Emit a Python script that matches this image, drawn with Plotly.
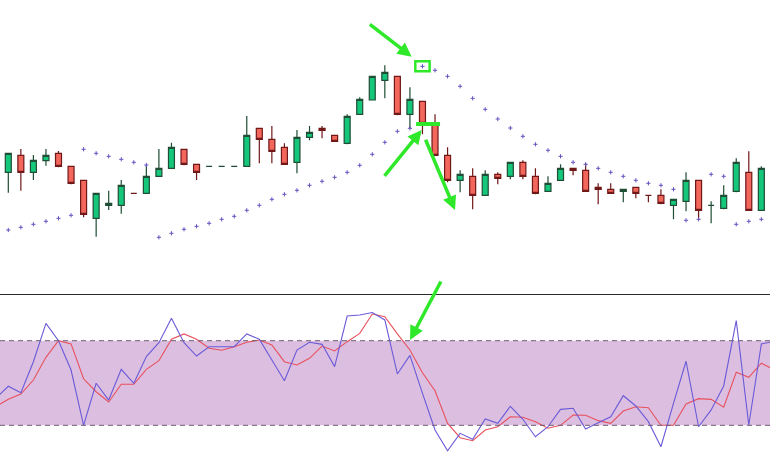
import plotly.graph_objects as go

# ---------------- data ----------------
candle_x = list(range(0, 61))
opens = [77.7, 94.7, 77.7, 89.3, 96.7, 83.7, 69.7, 31.7, 44.7, 44.7,
         56.7, 56.7, 73.7, 81.7, 100.7, 85.7, 83.7, 83.7, 83.7, 83.7,
         121.7, 110.7, 102.7, 87.7, 112.7, 121.7, 114.7, 106.7, 135.7, 150.0,
         169.7, 173.7, 135.7, 148.7, 126.7, 94.7, 69.7, 73.7, 54.7, 75.7,
         73.7, 87.7, 73.7, 58.7, 69.7, 81.7, 79.7, 62.7, 60.7, 58.7,
         62.7, 54.7, 54.7, 44.7, 48.7, 69.7, 44.7, 41.7, 58.7, 77.7, 39.7]
highs = [96.7, 101.0, 95.0, 101.0, 99.0, 83.7, 69.7, 56.7, 59.3, 70.0,
         56.7, 85.0, 101.0, 107.3, 100.7, 85.7, 83.7, 83.7, 83.7, 134.0,
         121.7, 124.0, 106.7, 120.0, 124.0, 124.0, 114.7, 135.7, 152.7, 173.7,
         184.7, 173.7, 162.7, 148.7, 135.7, 102.7, 79.7, 81.7, 79.7, 77.7,
         87.7, 89.7, 81.7, 73.7, 85.7, 81.7, 86.7, 66.7, 66.7, 60.7,
         62.7, 54.7, 60.7, 50.7, 77.7, 69.7, 48.7, 64.7, 91.7, 98.7, 83.7]
lows = [57.3, 59.3, 70.0, 84.3, 82.7, 65.7, 32.7, 13.3, 40.0, 36.3,
        56.7, 56.7, 73.7, 81.7, 84.7, 70.0, 83.7, 83.7, 83.7, 83.7,
        86.7, 86.7, 85.7, 76.7, 109.7, 111.7, 108.7, 105.7, 135.7, 150.0,
        151.7, 134.7, 121.7, 115.7, 94.7, 67.7, 57.7, 40.7, 54.7, 65.7,
        70.7, 70.7, 55.7, 58.7, 69.7, 74.7, 58.7, 45.7, 56.7, 47.7,
        51.7, 47.7, 45.7, 30.7, 38.7, 30.7, 26.7, 40.7, 57.7, 39.7, 39.7]
closes = [96.7, 77.7, 89.7, 94.7, 83.7, 66.7, 35.7, 56.7, 46.7, 64.7,
          56.7, 73.7, 81.7, 102.7, 85.7, 77.7, 83.7, 83.7, 83.7, 114.7,
          110.7, 98.7, 85.7, 112.7, 117.7, 119.7, 108.7, 133.7, 150.7, 173.7,
          177.7, 135.7, 150.7, 126.7, 94.7, 69.7, 75.7, 54.7, 75.7, 71.7,
          87.7, 73.7, 56.7, 66.7, 81.7, 79.7, 58.7, 60.7, 56.7, 60.7,
          56.7, 54.7, 46.7, 50.7, 69.7, 39.7, 44.7, 54.7, 87.7, 39.7, 81.7]

# Parabolic SAR dots
sar = [20.0, 22.7, 25.7, 28.7, 31.7, 34.7,
       100.7, 96.7, 93.7, 90.7, 87.7, 85.0,
       12.7, 16.7, 20.7, 23.7, 26.7, 30.7, 33.7, 39.7, 44.7, 50.7, 55.7,
       59.7, 64.7, 68.7, 72.7, 77.7, 84.7, 95.7, 107.7, 118.7, 121.7,
       183.7, 179.7, 173.7, 163.7, 151.7, 140.7, 131.0, 122.0, 113.7, 105.7,
       99.7, 93.7, 87.7, 85.7, 81.7, 77.7, 73.7, 69.7, 66.7, 64.7, 60.7,
       29.7, 30.7,
       75.7, 73.7,
       25.7, 28.7, 30.7]

# Stochastic oscillator
stoch_x = list(range(-1, 62))
stoch_k = [39.1, 47.7, 43.1, 65.1, 92.3, 80.0, 59.2, 20.0, 49.8, 37.9,
           59.7, 49.8, 68.7, 78.6, 95.9, 78.6, 69.1, 75.7, 75.7, 75.7,
           84.8, 81.0, 66.3, 51.6, 73.4, 78.9, 77.4, 61.6, 97.5, 98.2,
           100.0, 94.7, 56.4, 69.6, 42.7, 16.7, 2.0, 14.3, 10.1, 24.5,
           21.4, 33.5, 24.3, 11.9, 19.0, 31.3, 32.1, 17.4, 21.8, 26.1,
           41.0, 33.7, 22.6, 4.8, 35.6, 65.4, 19.0, 30.9, 47.9, 94.2,
           20.2, 77.7, 79.4]
stoch_d = [33.2, 38.4, 42.2, 52.1, 68.2, 80.0, 77.7, 53.0, 43.8, 36.5,
           49.1, 49.1, 59.7, 65.8, 81.0, 84.8, 81.0, 74.6, 73.2, 75.7,
           78.9, 80.5, 77.0, 65.1, 62.8, 67.5, 76.2, 72.7, 79.3, 85.2,
           98.9, 97.0, 84.8, 73.4, 57.3, 44.5, 21.4, 11.2, 9.1, 16.7,
           19.0, 26.1, 25.7, 22.6, 17.9, 20.0, 27.3, 27.1, 23.3, 21.4,
           30.1, 33.2, 32.5, 20.0, 20.0, 35.1, 38.9, 38.4, 32.8, 57.6,
           54.0, 64.0, 59.6]
levels = [20, 80]

# annotation arrows: (tail_x, tail_y, tip_x, tip_y, axis)
arrows = [
    (28.69, 226.7, 32.14, 193.3, "y"),
    (29.88, 72.7, 32.94, 120.0, "y"),
    (33.20, 111.7, 35.59, 40.0, "y"),
    (34.53, 123.0, 32.01, 80.5, "y2"),
]
marked_sar_index = 33          # SAR dot framed by the green box
marked_level = 126.0           # green horizontal mark
marked_level_span = (32.49, 34.40)

# ---------------- figure ----------------
GREEN = "#2fe82a"
H = 461
split = (H - 294) / H
sep_y = (H - 294.5) / H

fig = go.Figure()

fig.add_trace(go.Candlestick(
    x=candle_x, open=opens, high=highs, low=lows, close=closes,
    increasing=dict(fillcolor="#14c77b", line=dict(color="#1f4d35", width=1.2)),
    decreasing=dict(fillcolor="#f2665c", line=dict(color="#701818", width=1.2)),
    whiskerwidth=0, showlegend=False, hoverinfo="skip",
    xaxis="x", yaxis="y",
))

fig.add_trace(go.Scatter(
    x=candle_x, y=sar, mode="markers",
    marker=dict(symbol="cross-thin", size=3, line=dict(color="#6652c0", width=1)),
    showlegend=False, hoverinfo="skip", xaxis="x", yaxis="y",
))

fig.add_trace(go.Scatter(
    x=stoch_x, y=stoch_d, mode="lines",
    line=dict(color="#e8505c", width=1.1),
    showlegend=False, hoverinfo="skip", xaxis="x", yaxis="y2",
))
fig.add_trace(go.Scatter(
    x=stoch_x, y=stoch_k, mode="lines",
    line=dict(color="#6a5ad8", width=1.1),
    showlegend=False, hoverinfo="skip", xaxis="x", yaxis="y2",
))

shapes = []
# stochastic band
shapes.append(dict(type="rect", xref="paper", yref="y2", x0=0, x1=1,
                   y0=levels[0], y1=levels[1], fillcolor="#dcbfe0",
                   line=dict(width=0), layer="below"))
for lv in levels:
    shapes.append(dict(type="line", xref="paper", yref="y2", x0=0, x1=1,
                       y0=lv, y1=lv, line=dict(color="#6e5e72", width=1, dash="5px,4px"),
                       layer="above"))
# panel separator
shapes.append(dict(type="line", xref="paper", yref="paper", x0=0, x1=1,
                   y0=sep_y, y1=sep_y, line=dict(color="#2a2a2a", width=1)))
# green box around SAR flip dot
mx, my = candle_x[marked_sar_index], sar[marked_sar_index]
shapes.append(dict(type="rect", xref="x", yref="y", x0=mx - 0.57, x1=mx + 0.57,
                   y0=my - 5, y1=my + 5, line=dict(color=GREEN, width=2.5)))
# green horizontal level mark
shapes.append(dict(type="line", xref="x", yref="y", x0=marked_level_span[0],
                   x1=marked_level_span[1], y0=marked_level, y1=marked_level,
                   line=dict(color=GREEN, width=4)))

annotations = []
for tx, ty, hx, hy, ax_ in arrows:
    annotations.append(dict(
        x=hx, y=hy, xref="x", yref=ax_, ax=tx, ay=ty, axref="x", ayref=ax_,
        text="", showarrow=True, arrowhead=2, arrowsize=0.8, arrowwidth=3.5,
        arrowcolor=GREEN, standoff=0,
    ))

fig.update_layout(
    width=770, height=H,
    margin=dict(l=0, r=0, t=0, b=0),
    paper_bgcolor="white", plot_bgcolor="white",
    boxgap=0.32,
    shapes=shapes, annotations=annotations,
    xaxis=dict(range=[-0.661, 60.69], visible=False, showgrid=False,
               zeroline=False, rangeslider=dict(visible=False), fixedrange=True),
    yaxis=dict(domain=[split, 1], range=[-44, 250], visible=False,
               showgrid=False, zeroline=False),
    yaxis2=dict(domain=[0, split], range=[-5.3, 113.1], visible=False,
                showgrid=False, zeroline=False, anchor="x"),
)

fig.write_html("out.html", config={"displayModeBar": False},
               post_script="document.body.style.margin='0';document.body.style.overflow='hidden';")
